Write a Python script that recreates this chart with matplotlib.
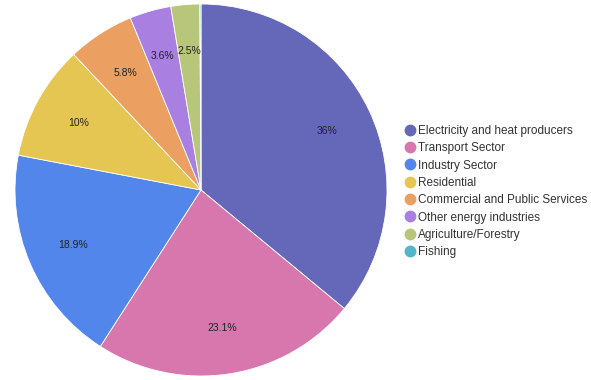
import matplotlib
matplotlib.use("Agg")
import matplotlib.pyplot as plt
from matplotlib.lines import Line2D

plt.rcParams["font.family"] = ["Liberation Sans", "DejaVu Sans"]

sectors = [
    "Electricity and heat producers",
    "Transport Sector",
    "Industry Sector",
    "Residential",
    "Commercial and Public Services",
    "Other energy industries",
    "Agriculture/Forestry",
    "Fishing",
]
shares = [36, 23.1, 18.9, 10, 5.8, 3.6, 2.5, 0.1]
colors = ["#6567b8", "#d877ae", "#5286ea", "#e6c652", "#eba062", "#a97fe2", "#b8c67c", "#53b6c8"]

fig = plt.figure(figsize=(5.91, 3.80), dpi=100)
ax = fig.add_axes([15 / 591, 4 / 380, 372 / 591, 372 / 380])

wedges, texts = ax.pie(
    shares,
    colors=colors,
    startangle=90,
    counterclock=False,
    labels=[f"{v:g}%" if v >= 1 else "" for v in shares],
    labeldistance=0.75,
    wedgeprops={"edgecolor": "white", "linewidth": 0.6},
    textprops={"fontsize": 7.5, "color": "#222222"},
)
for t in texts:
    t.set_horizontalalignment("center")
    t.set_verticalalignment("center")
ax.set_xlim(-1, 1)
ax.set_ylim(-1, 1)
ax.set_aspect("equal")

handles = [
    Line2D([], [], marker="o", linestyle="", markersize=7.5,
           markerfacecolor=c, markeredgecolor=c)
    for c in colors
]
fig.legend(
    handles, sectors,
    loc="upper left",
    bbox_to_anchor=(404 / 591, 1 - 125 / 380),
    frameon=False,
    fontsize=8.5,
    handletextpad=0.2,
    labelspacing=0.45,
    handlelength=1.0,
    borderaxespad=0,
    borderpad=0,
    labelcolor="#333333",
)

fig.savefig("out.png", dpi=100)
